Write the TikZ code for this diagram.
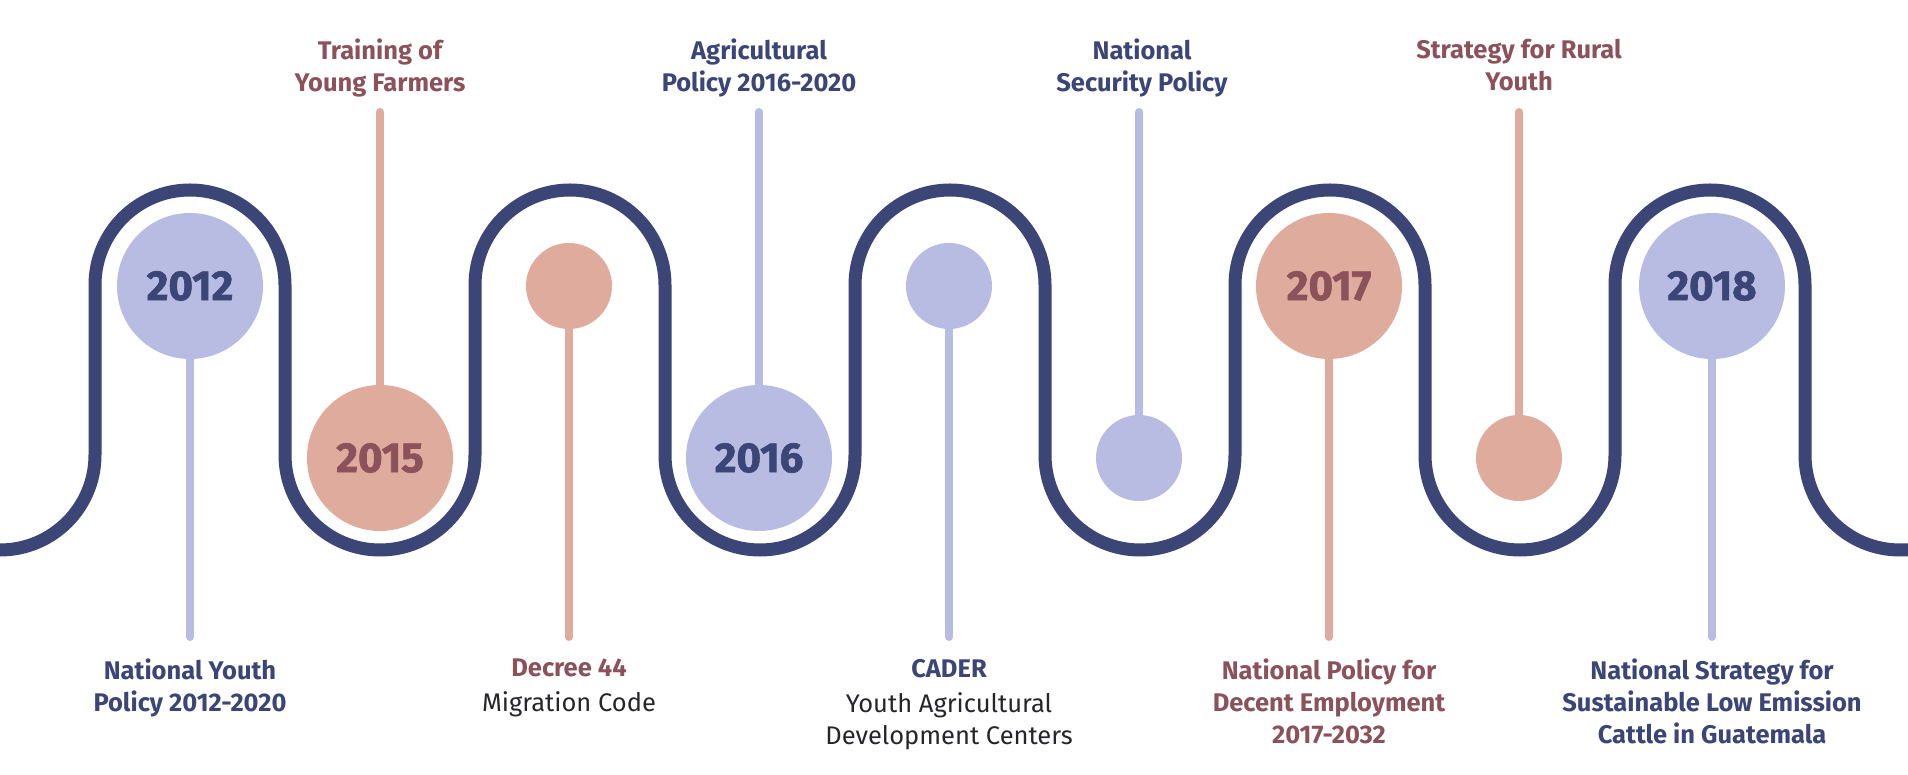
\documentclass[tikz,border=0pt]{standalone}
\usepackage{fontspec}
\setmainfont{Fira Sans}
\newfontfamily\yearfont{Fira Sans}[BoldFeatures={FakeBold=1.5}]
\definecolor{navy}{RGB}{59,69,118}
\definecolor{lav}{RGB}{185,188,226}
\definecolor{salmon}{RGB}{222,171,156}
\definecolor{maroon}{RGB}{139,82,92}
\definecolor{darktext}{RGB}{38,38,42}
\begin{document}
\begin{tikzpicture}[x=1pt,y=1pt,
  wave/.style={draw=navy,line width=13pt},
  bigdot/.style={circle,fill=#1,minimum size=146pt,inner sep=0pt},
  smalldot/.style={circle,fill=#1,minimum size=86pt,inner sep=0pt},
  stemline/.style={draw=#1,line width=8pt,line cap=round},
  yr/.style={font=\yearfont\fontsize{42}{44}\selectfont\bfseries},
  lbl/.style={align=center,inner sep=0pt,font=\fontsize{25.5}{32}\selectfont\bfseries}]
\useasboundingbox (0,0) rectangle (1908,775);
\fill[white] (0,0) rectangle (1908,775);

% wave
\draw[wave] (0,225) arc[start angle=-90,end angle=0,radius=95pt]
  \foreach \i in {1,...,4}{ -- ++(0,170) arc[start angle=180,end angle=0,radius=95pt]
     -- ++(0,-170) arc[start angle=180,end angle=360,radius=95pt] }
  -- ++(0,170) arc[start angle=180,end angle=0,radius=95pt]
  -- ++(0,-170) arc[start angle=180,end angle=270,radius=95pt] -- ++(15,0);

% circles
\node[bigdot=lav,yr,text=navy] (c2012) at (190,489) {2012};
\node[bigdot=salmon,yr,text=maroon] (c2015) at (380,317) {2015};
\node[smalldot=salmon] (cdec) at (569,489) {};
\node[bigdot=lav,yr,text=navy] (c2016) at (759,317) {2016};
\node[smalldot=lav] (ccad) at (949,489) {};
\node[smalldot=lav] (csec) at (1139,317) {};
\node[bigdot=salmon,yr,text=maroon] (c2017) at (1329,489) {2017};
\node[smalldot=salmon] (crur) at (1519,317) {};
\node[bigdot=lav,yr,text=navy] (c2018) at (1712,489) {2018};

% stem ends
\coordinate (e2012) at (190,138);
\coordinate (e2015) at (380,663);
\coordinate (edec) at (569,138);
\coordinate (e2016) at (759,663);
\coordinate (ecad) at (949,138);
\coordinate (esec) at (1139,663);
\coordinate (e2017) at (1329,138);
\coordinate (erur) at (1519,663);
\coordinate (e2018) at (1712,138);

\draw[stemline=lav] (c2012.south) -- (e2012);
\draw[stemline=salmon] (c2015.north) -- (e2015);
\draw[stemline=salmon] (cdec.south) -- (edec);
\draw[stemline=lav] (c2016.north) -- (e2016);
\draw[stemline=lav] (ccad.south) -- (ecad);
\draw[stemline=lav] (csec.north) -- (esec);
\draw[stemline=salmon] (c2017.south) -- (e2017);
\draw[stemline=salmon] (crur.north) -- (erur);
\draw[stemline=lav] (c2018.south) -- (e2018);

% bottom labels
\node[lbl,text=navy,anchor=north] (t2012) at (190,116) {National Youth\\Policy 2012-2020};
\node[lbl,text=maroon,anchor=north] (tdec) at (569,116) {Decree 44\\[3pt]{\normalfont\fontsize{25.5}{32}\selectfont\color{darktext}Migration Code}};
\node[lbl,text=navy,anchor=north] (tcad) at (949,116) {CADER\\[3pt]{\normalfont\fontsize{25.5}{32}\selectfont\color{darktext}Youth Agricultural}\\{\normalfont\fontsize{25.5}{32}\selectfont\color{darktext}Development Centers}};
\node[lbl,text=maroon,anchor=north] (t2017) at (1329,116) {National Policy for\\Decent Employment\\2017-2032};
\node[lbl,text=navy,anchor=north] (t2018) at (1712,116) {National Strategy for\\Sustainable Low Emission\\Cattle in Guatemala};

% top labels
\node[lbl,text=maroon,anchor=north] (t2015) at (380,736) {Training of\\Young Farmers};
\node[lbl,text=navy,anchor=north] (t2016) at (759,736) {Agricultural\\Policy 2016-2020};
\node[lbl,text=navy,anchor=north] (tsec) at (1142,736) {National\\Security Policy};
\node[lbl,text=maroon,anchor=north] (trur) at (1519,736) {Strategy for Rural\\Youth};
\end{tikzpicture}
\end{document}
